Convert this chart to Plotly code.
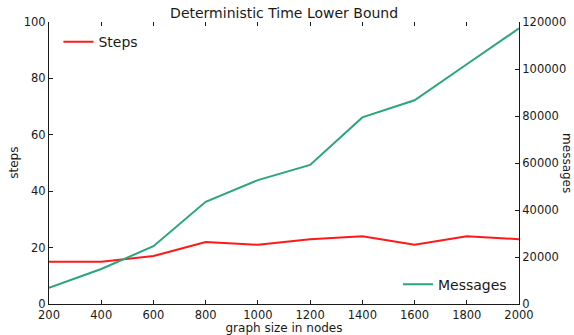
import plotly.graph_objects as go

# graph sizes (nodes) and measured results
nodes = [200, 400, 600, 800, 1000, 1200, 1400, 1600, 1800, 2000]
steps = [15, 15, 17, 22, 21, 23, 24, 21, 24, 23]
messages = [6900, 14900, 24600, 43500, 52700, 59200, 79400, 86700, 102000, 117300]

x_ticks = [200, 400, 600, 800, 1000, 1200, 1400, 1600, 1800, 2000]
steps_ticks = [0, 20, 40, 60, 80, 100]
msg_ticks = [0, 20000, 40000, 60000, 80000, 100000, 120000]

RED = "#ff1a1a"
GREEN = "#2ba57e"
FONT = "DejaVu Sans"
INK = "#1a1a1a"

fig = go.Figure()
fig.add_trace(go.Scatter(
    x=nodes, y=steps, mode="lines", name="Steps",
    line=dict(color=RED, width=2), legend="legend", yaxis="y",
))
fig.add_trace(go.Scatter(
    x=nodes, y=messages, mode="lines", name="Messages",
    line=dict(color=GREEN, width=2), legend="legend2", yaxis="y2",
))

tickfont = dict(family=FONT, size=11.5, color=INK)

fig.update_layout(
    width=574, height=335,
    margin=dict(l=49, r=55, t=22, b=31),
    paper_bgcolor="white", plot_bgcolor="white",
    font=dict(family=FONT, color=INK),
    title=dict(text="Deterministic Time Lower Bound", x=0.495, xanchor="center",
               y=0.962, yanchor="middle", font=dict(family=FONT, size=14, color=INK)),
    xaxis=dict(
        range=[200, 2000], tickvals=x_ticks, ticks="inside", ticklen=4,
        tickcolor=INK, showline=True, linecolor=INK, linewidth=1,
        showgrid=False, zeroline=False, tickfont=tickfont, automargin=False,
        title=dict(text="graph size in nodes", standoff=0,
                   font=dict(family=FONT, size=12, color=INK)),
    ),
    xaxis2=dict(
        range=[200, 2000], tickvals=x_ticks, ticks="inside", ticklen=4,
        tickcolor=INK, showline=False, showgrid=False, zeroline=False,
        showticklabels=False, overlaying="x", side="top", matches="x",
        automargin=False,
    ),
    yaxis=dict(
        range=[0, 100], tickvals=steps_ticks, ticks="inside", ticklen=4,
        tickcolor=INK, showline=True, linecolor=INK, linewidth=1,
        showgrid=False, zeroline=False, tickfont=tickfont, automargin=False,
        showticklabels=True,
    ),
    yaxis2=dict(
        range=[0, 120000], tickvals=msg_ticks, tickformat="d", ticks="inside",
        ticklen=4, tickcolor=INK, showline=True, linecolor=INK, linewidth=1,
        showgrid=False, zeroline=False, tickfont=tickfont, automargin=False,
        overlaying="y", side="right",
    ),
    legend=dict(
        x=0.02, y=0.985, xanchor="left", yanchor="top",
        bgcolor="rgba(0,0,0,0)", font=dict(family=FONT, size=14, color=INK),
    ),
    legend2=dict(
        x=0.985, y=0.012, xanchor="right", yanchor="bottom",
        bgcolor="rgba(0,0,0,0)", font=dict(family=FONT, size=14, color=INK),
    ),
    showlegend=True,
)

# an invisible trace keeps the top tick axis active
fig.add_trace(go.Scatter(x=[200], y=[0], xaxis="x2", yaxis="y", mode="markers",
                         marker=dict(opacity=0), showlegend=False, hoverinfo="skip"))

# left axis label
fig.add_annotation(
    text="steps", textangle=-90, xref="paper", yref="paper",
    x=-0.075, y=0.5, xanchor="center", yanchor="middle", showarrow=False,
    font=dict(family=FONT, size=12, color=INK),
)

# right-hand axis label, rotated to read top to bottom
fig.add_annotation(
    text="messages", textangle=90, xref="paper", yref="paper",
    x=1.102, y=0.5, xanchor="center", yanchor="middle", showarrow=False,
    font=dict(family=FONT, size=12, color=INK),
)

fig.write_html("out.html")
